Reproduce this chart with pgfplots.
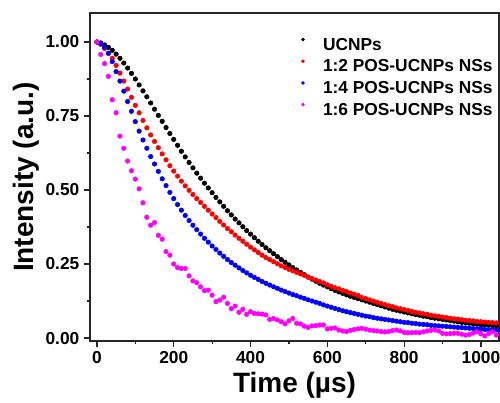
\documentclass[border=0pt]{standalone}
\usepackage{fontspec}
\setmainfont{Liberation Sans}
\usepackage{pgfplots}
\pgfplotsset{compat=1.18}
\usepackage{pgfplotstable}
\definecolor{cred}{RGB}{255,0,0}
\definecolor{cblue}{RGB}{0,0,255}
\definecolor{cmag}{RGB}{255,0,255}

\pgfplotstableread{
t I
0 1.000
10 0.997
20 0.990
30 0.982
40 0.972
50 0.959
60 0.945
70 0.929
80 0.912
90 0.894
100 0.875
110 0.855
120 0.835
130 0.815
140 0.794
150 0.773
160 0.752
170 0.732
180 0.711
190 0.691
200 0.671
210 0.651
220 0.631
230 0.612
240 0.593
250 0.575
260 0.557
270 0.540
280 0.523
290 0.507
300 0.491
310 0.475
320 0.460
330 0.445
340 0.430
350 0.416
360 0.402
370 0.389
380 0.376
390 0.363
400 0.351
410 0.339
420 0.327
430 0.316
440 0.305
450 0.295
460 0.285
470 0.275
480 0.265
490 0.256
500 0.247
510 0.238
520 0.230
530 0.222
540 0.214
550 0.206
560 0.199
570 0.192
580 0.185
590 0.179
600 0.173
610 0.167
620 0.161
630 0.156
640 0.151
650 0.146
660 0.141
670 0.137
680 0.133
690 0.129
700 0.125
710 0.121
720 0.117
730 0.113
740 0.109
750 0.105
760 0.101
770 0.097
780 0.094
790 0.091
800 0.088
810 0.085
820 0.082
830 0.079
840 0.077
850 0.074
860 0.072
870 0.069
880 0.067
890 0.065
900 0.063
910 0.061
920 0.059
930 0.057
940 0.055
950 0.053
960 0.051
970 0.050
980 0.048
990 0.047
1000 0.045
1010 0.044
1020 0.043
1030 0.042
1040 0.041
}\ucnp

\pgfplotstableread{
t I
0 1.000
10 0.992
20 0.978
30 0.962
40 0.945
50 0.921
60 0.895
70 0.868
80 0.841
90 0.813
100 0.786
110 0.761
120 0.735
130 0.710
140 0.686
150 0.664
160 0.643
170 0.622
180 0.602
190 0.582
200 0.564
210 0.547
220 0.530
230 0.514
240 0.499
250 0.485
260 0.471
270 0.458
280 0.445
290 0.432
300 0.419
310 0.407
320 0.394
330 0.382
340 0.370
350 0.359
360 0.348
370 0.337
380 0.327
390 0.317
400 0.307
410 0.298
420 0.289
430 0.280
440 0.272
450 0.265
460 0.258
470 0.251
480 0.244
490 0.238
500 0.232
510 0.227
520 0.222
530 0.217
540 0.212
550 0.206
560 0.201
570 0.196
580 0.191
590 0.186
600 0.180
610 0.175
620 0.170
630 0.166
640 0.161
650 0.157
660 0.152
670 0.148
680 0.144
690 0.137
700 0.133
710 0.129
720 0.125
730 0.121
740 0.117
750 0.113
760 0.109
770 0.106
780 0.102
790 0.099
800 0.096
810 0.093
820 0.090
830 0.087
840 0.085
850 0.082
860 0.080
870 0.077
880 0.075
890 0.073
900 0.071
910 0.069
920 0.067
930 0.065
940 0.064
950 0.062
960 0.060
970 0.059
980 0.058
990 0.056
1000 0.055
1010 0.054
1020 0.053
1030 0.052
1040 0.051
}\rtwo

\pgfplotstableread{
t I
0 1.000
10 0.995
20 0.982
30 0.962
40 0.934
50 0.900
60 0.868
70 0.834
80 0.799
90 0.766
100 0.731
110 0.699
120 0.669
130 0.641
140 0.613
150 0.588
160 0.563
170 0.538
180 0.515
190 0.492
200 0.471
210 0.451
220 0.432
230 0.414
240 0.397
250 0.381
260 0.366
270 0.351
280 0.337
290 0.324
300 0.311
310 0.299
320 0.287
330 0.276
340 0.265
350 0.255
360 0.246
370 0.237
380 0.228
390 0.220
400 0.212
410 0.205
420 0.198
430 0.191
440 0.185
450 0.179
460 0.173
470 0.168
480 0.162
490 0.157
500 0.152
510 0.147
520 0.143
530 0.138
540 0.134
550 0.129
560 0.125
570 0.121
580 0.117
590 0.112
600 0.108
610 0.104
620 0.100
630 0.096
640 0.092
650 0.089
660 0.086
670 0.083
680 0.080
690 0.077
700 0.074
710 0.072
720 0.069
730 0.067
740 0.065
750 0.063
760 0.061
770 0.059
780 0.057
790 0.055
800 0.053
810 0.052
820 0.050
830 0.049
840 0.047
850 0.046
860 0.045
870 0.043
880 0.042
890 0.041
900 0.040
910 0.039
920 0.038
930 0.037
940 0.036
950 0.035
960 0.034
970 0.033
980 0.032
990 0.031
1000 0.030
1010 0.029
1020 0.028
1030 0.028
1040 0.027
}\rfour

\pgfplotstableread{
t I
0 1.000
10 0.958
20 0.927
30 0.884
40 0.805
50 0.761
60 0.682
70 0.641
80 0.598
90 0.565
100 0.537
110 0.504
120 0.457
130 0.408
140 0.381
150 0.390
160 0.347
170 0.334
180 0.292
190 0.280
200 0.250
210 0.238
220 0.235
230 0.235
240 0.210
250 0.193
260 0.187
270 0.173
280 0.160
290 0.162
300 0.145
310 0.123
320 0.128
330 0.138
340 0.117
350 0.099
360 0.108
370 0.087
380 0.097
390 0.080
400 0.089
410 0.083
420 0.082
430 0.081
440 0.078
450 0.063
460 0.066
470 0.061
480 0.055
490 0.048
500 0.058
510 0.066
520 0.050
530 0.048
540 0.040
550 0.036
560 0.041
570 0.042
580 0.044
590 0.044
600 0.031
610 0.033
620 0.034
630 0.027
640 0.024
650 0.022
660 0.026
670 0.029
680 0.031
690 0.033
700 0.030
710 0.027
720 0.025
730 0.024
740 0.022
750 0.021
760 0.022
770 0.025
780 0.027
790 0.024
800 0.019
810 0.018
820 0.018
830 0.019
840 0.018
850 0.021
860 0.024
870 0.026
880 0.027
890 0.024
900 0.016
910 0.014
920 0.015
930 0.016
940 0.016
950 0.013
960 0.010
970 0.012
980 0.017
990 0.021
1000 0.014
1010 0.007
1020 0.015
1030 0.021
1040 0.010
}\rsix

\begin{document}
\begin{tikzpicture}
\begin{axis}[
  scale only axis,
  width=306.75pt, height=246pt,
  xmin=-18, xmax=1047,
  ymin=-0.01, ymax=1.098,
  xtick={0,200,...,1000},
  ytick={0,0.25,0.5,0.75,1},
  minor x tick num=1,
  minor y tick num=1,
  xtick pos=bottom, ytick pos=left,
  tick align=outside,
  major tick length=4.5pt,
  minor tick length=2.5pt,
  axis line style={line width=1.1pt, black!85},
  every tick/.style={line width=0.9pt, black!85},
  /pgf/number format/assume math mode=true,
  tick label style={font=\fontsize{13}{15}\selectfont\bfseries},
  xticklabel style={/pgf/number format/1000 sep={}},
  yticklabel style={/pgf/number format/.cd, fixed, fixed zerofill, precision=2},
  xlabel={Time (µs)},
  ylabel={Intensity (a.u.)},
  label style={font=\fontsize{21}{24}\selectfont\bfseries},
  xlabel style={at={(axis description cs:0.5,-0.1585)}, anchor=base},
  ylabel style={at={(axis description cs:-0.139,0.5)}, anchor=base, rotate=0},
  every axis plot/.append style={only marks, mark=*, mark size=1.7pt},
  legend style={draw=none, fill=none, inner sep=0pt, outer sep=0pt,
    at={(axis description cs:0.5143,0.9319)}, anchor=north west,
    font=\fontsize{13}{15}\selectfont\bfseries, row sep=1.1pt,
    nodes={text height=9.5pt, text depth=2.7pt, inner sep=1.5pt}},
  legend cell align=left,
  legend image code/.code={\path[draw=none,fill=none] (-2pt,0pt) rectangle (13.5pt,0.1pt); \draw[#1,mark size=1.1pt] plot coordinates {(0pt,4.5pt)};},
]
\addplot[black, mark options={fill=black, draw=black}] table[x=t,y=I] {\ucnp};
\addplot[cred, mark options={fill=cred, draw=cred}] table[x=t,y=I] {\rtwo};
\addplot[cblue, mark options={fill=cblue, draw=cblue}] table[x=t,y=I] {\rfour};
\addplot[cmag, mark options={fill=cmag, draw=cmag}] table[x=t,y=I] {\rsix};
\legend{UCNPs, 1:2 POS-UCNPs NSs, 1:4 POS-UCNPs NSs, 1:6 POS-UCNPs NSs}
\end{axis}
\pgfresetboundingbox
\path[use as bounding box] (-67.5pt,-46.5pt) rectangle (307.5pt,255.75pt);
\end{tikzpicture}
\end{document}
